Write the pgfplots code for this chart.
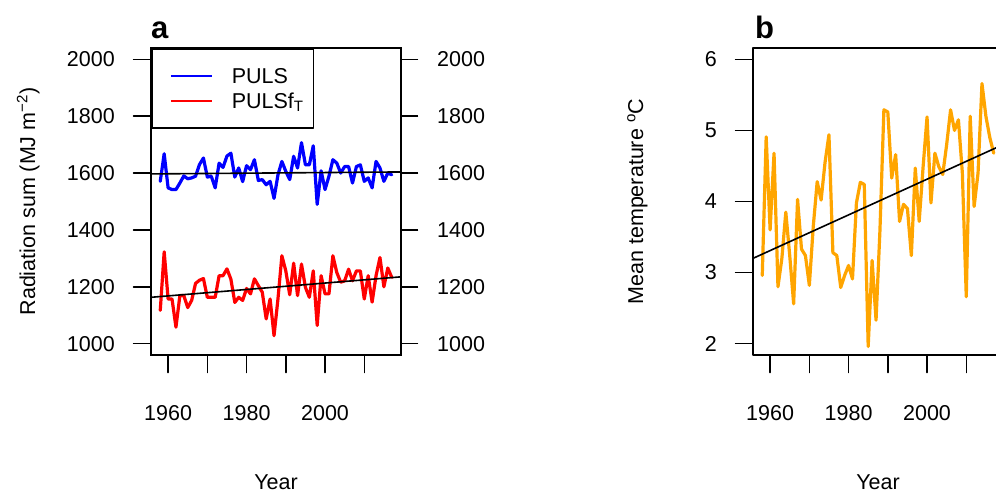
\documentclass[border=0pt]{standalone}
\usepackage{fontspec}
\setmainfont{Liberation Sans}
\usepackage{pgfplots}
\usepackage{pgfplotstable}
\pgfplotsset{compat=1.18}
\definecolor{rorange}{RGB}{255,165,0}
\newcommand{\fs}{\fontsize{21.5}{25}\selectfont}

\pgfplotstableread{
year puls pulsft temp
1958 1571 1117 2.96
1959 1668 1323 4.91
1960 1548 1157 3.60
1961 1542 1157 4.68
1962 1542 1058 2.80
1963 1565 1169 3.20
1964 1590 1169 3.85
1965 1580 1127 3.24
1966 1583 1152 2.56
1967 1589 1212 4.03
1968 1630 1223 3.33
1969 1653 1229 3.24
1970 1586 1163 2.82
1971 1589 1163 3.65
1972 1548 1163 4.28
1973 1635 1239 4.02
1974 1620 1239 4.55
1975 1660 1263 4.94
1976 1670 1227 3.28
1977 1586 1145 3.24
1978 1618 1163 2.79
1979 1570 1152 2.96
1980 1626 1194 3.10
1981 1612 1175 2.91
1982 1647 1228 3.98
1983 1574 1204 4.27
1984 1577 1181 4.24
1985 1559 1087 1.96
1986 1571 1157 3.17
1987 1511 1028 2.33
1988 1594 1157 3.60
1989 1641 1309 5.29
1990 1606 1256 5.26
1991 1577 1172 4.33
1992 1659 1283 4.66
1993 1618 1169 3.72
1994 1707 1280 3.96
1995 1629 1198 3.90
1996 1629 1163 3.24
1997 1696 1256 4.47
1998 1490 1064 3.72
1999 1608 1239 4.49
2000 1542 1175 5.19
2001 1589 1175 3.98
2002 1647 1309 4.68
2003 1635 1250 4.49
2004 1600 1216 4.38
2005 1623 1221 4.80
2006 1623 1262 5.29
2007 1565 1221 5.00
2008 1623 1256 5.15
2009 1629 1256 4.40
2010 1571 1157 2.66
2011 1583 1239 5.20
2012 1548 1146 3.93
2013 1641 1239 4.40
2014 1618 1303 5.66
2015 1571 1200 5.20
2016 1600 1266 4.90
2017 1594 1233 4.68
}\data

\pgfplotsset{
  rstyle/.style={
    scale only axis, width=250pt, height=307pt, anchor=south west,
    xmin=1955.64, xmax=2019.36,
    axis line style={line width=1.5pt},
    every tick/.style={black, line width=1.5pt},
    tick align=outside, major tick length=17.5pt,
    xtick={1960,1970,...,2010}, xticklabels={1960,,1980,,2000,},
    xtick pos=bottom,
    ticklabel style={font=\fs},
    /pgf/number format/assume math mode=true,
    /pgf/number format/1000 sep={},
    xticklabel style={anchor=base, inner sep=0pt, yshift=-47.5pt},
    yticklabel style={inner sep=0pt},
  },
  leftlab/.style={yticklabel style={anchor=east, xshift=-18.5pt}},
  rightlab/.style={yticklabel style={anchor=west, xshift=18.5pt}},
}

\begin{document}
\begin{tikzpicture}[x=1pt,y=1pt]
\path[clip, use as bounding box] (0,0) rectangle (996,-493);

\begin{axis}[rstyle, leftlab, at={(151pt,-355pt)},
  ymin=960, ymax=2040, ytick={1000,1200,...,2000}, ytick pos=left,
  legend style={at={(0,1)}, anchor=north west, draw=black, line width=1.5pt,
    fill=white, inner xsep=0pt, inner ysep=14.5pt, row sep=0pt, column sep=0pt,
    font=\fs, nodes={inner sep=0pt, text height=20.2pt, text depth=4.8pt}},
  legend cell align=left,
  legend image code/.code={\path[draw=none] (0pt,0pt) -- (80pt,0pt); \draw[#1, line width=2pt] (19pt,0pt) -- (60pt,0pt);},
  line join=round, line cap=round]
\addplot[blue, line width=3.2pt] table[x=year, y=puls]{\data};
\addlegendentry{PULS}
\addplot[red, line width=3.2pt] table[x=year, y=pulsft]{\data};
\addlegendentry{PULSf\textsubscript{T}\hspace*{10pt}}
\addplot[black, line width=1.6pt, forget plot] coordinates {(1955.64,1597) (2019.36,1604)};
\addplot[black, line width=1.6pt, forget plot] coordinates {(1955.64,1163) (2019.36,1235)};
\end{axis}

\begin{axis}[rstyle, rightlab, at={(151pt,-355pt)},
  ymin=960, ymax=2040, ytick={1000,1200,...,2000}, ytick pos=right, yticklabel pos=right,
  xtick=\empty]
\end{axis}

\begin{axis}[rstyle, leftlab, at={(753pt,-355pt)},
  ymin=1.84, ymax=6.16, ytick={2,3,4,5,6}, ytick pos=left,
  line join=round, line cap=round]
\addplot[rorange, line width=3.2pt] table[x=year, y=temp]{\data};
\addplot[black, line width=1.6pt] coordinates {(1955.64,3.20) (2019.36,4.80)};
\end{axis}

\node[font=\fs, rotate=90, anchor=base] at (35,-201.5) {Radiation sum (MJ m\textsuperscript{−2})};
\node[font=\fs, rotate=90, anchor=base] at (643,-201.5) {Mean temperature \textsuperscript{o}C};
\node[font=\fs, anchor=base] at (276,-489) {Year};
\node[font=\fs, anchor=base] at (878,-489) {Year};
\node[font=\fontsize{31}{35}\selectfont\bfseries, anchor=base west, inner sep=0pt] at (151,-38) {a};
\node[font=\fontsize{31}{35}\selectfont\bfseries, anchor=base west, inner sep=0pt] at (755,-38) {b};
\end{tikzpicture}
\end{document}
